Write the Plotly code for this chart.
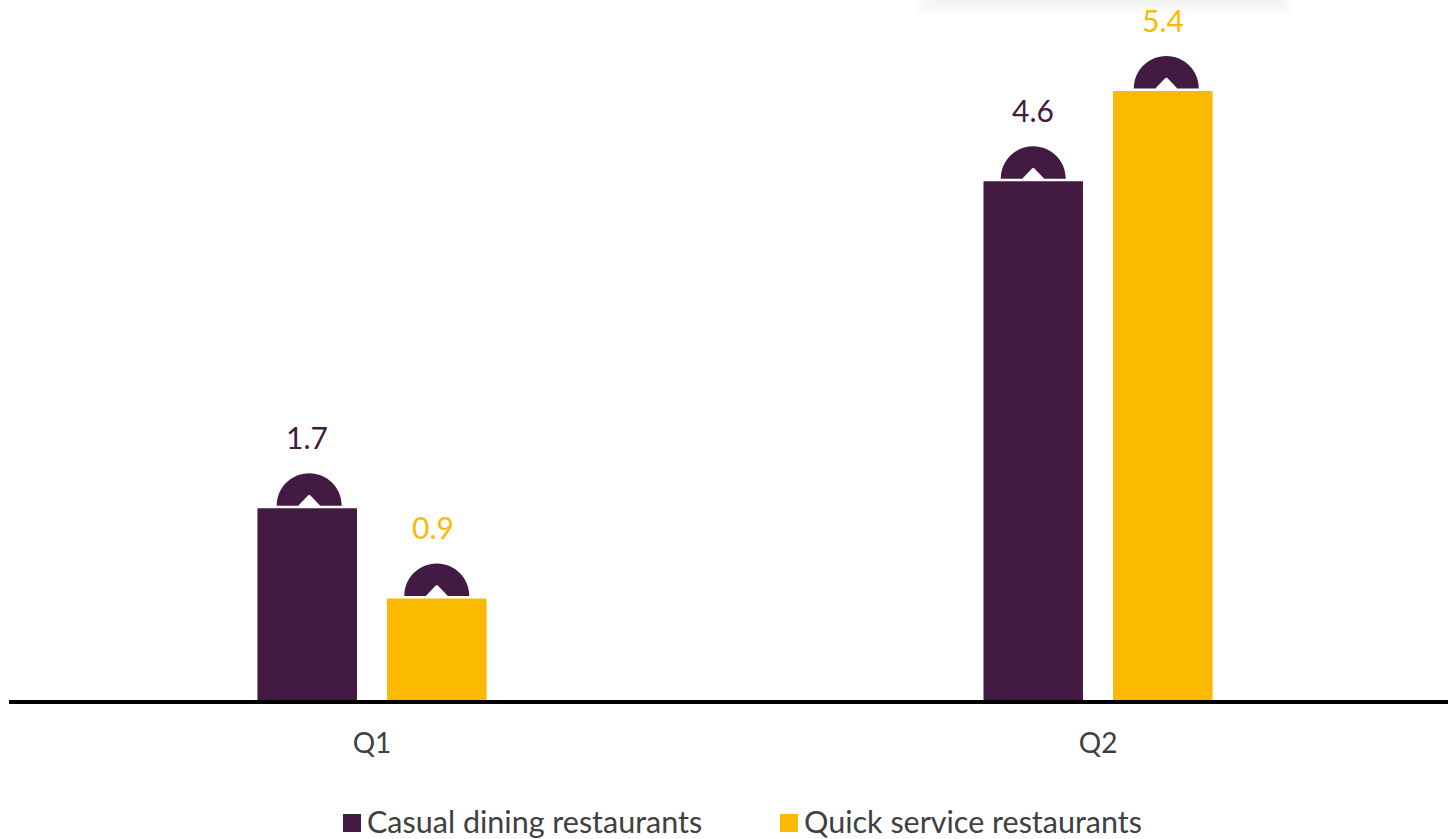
import plotly.graph_objects as go

# Chart data
quarters = ["Q1", "Q2"]
casual_dining = [1.7, 4.6]
quick_service = [0.9, 5.4]
series_names = ["Casual dining restaurants", "Quick service restaurants"]

PURPLE = "#431A42"
AMBER = "#FBBA00"
TEXT_GREY = "#404040"
FONT = "Lato"

WIDTH, HEIGHT = 1448, 839
LEFT, BOTTOM = 9, 139
BAR_GAP = 0.643
GROUP_GAP = 0.232
X_RANGE = [-0.5, 1.482]
Y_RANGE = [0, 6.206]

tick_positions = list(range(len(quarters)))
slot = (1 - BAR_GAP) / 2

fig = go.Figure()
for name, values, color in [
    (series_names[0], casual_dining, PURPLE),
    (series_names[1], quick_service, AMBER),
]:
    fig.add_trace(go.Bar(x=tick_positions, y=values, name=name, marker_color=color,
                         marker_line_width=0, showlegend=False))


def up_badge(x, y, nudge):
    """Half-ring badge with a white chevron, anchored just above a bar top."""
    r, k, lift = 32.5, 18, 2.5
    n = nudge
    path = (
        f"M {-r+n} {lift} C {-r+n} {lift+k} {-k+n} {lift+r} {n} {lift+r} "
        f"C {k+n} {lift+r} {r+n} {lift+k} {r+n} {lift} "
        f"L {11+n} {lift} L {1.5+n} {lift+10} L {n} {lift+11} L {-1.5+n} {lift+10} L {-11+n} {lift} Z"
    )
    return dict(type="path", xsizemode="pixel", ysizemode="pixel", xanchor=x, yanchor=y,
                path=path, fillcolor=PURPLE, line_width=0, xref="x", yref="y", layer="above")


# Per-bar nudges in pixels for the badges and the value labels
badge_nudges = {(0, 0): 2, (0, 1): 0, (1, 0): 0, (1, 1): 3.5}
label_nudges = {(0, 0): 0, (0, 1): -3.5, (1, 0): 0, (1, 1): 0}

for s, (values, color) in enumerate([(casual_dining, PURPLE), (quick_service, AMBER)]):
    offset = (s - 0.5) * slot
    for i, v in enumerate(values):
        x = tick_positions[i] + offset
        fig.add_shape(**up_badge(x, v, badge_nudges[(i, s)]))
        fig.add_annotation(x=x, y=v, yanchor="middle", xanchor="center", yshift=71,
                           xshift=label_nudges[(i, s)],
                           text=f"{v:.1f}", showarrow=False,
                           font=dict(family=FONT, size=30, color=color))

plot_w = WIDTH - LEFT


def px_x(p):
    return (p - LEFT) / plot_w


def px_y(p):
    return (HEIGHT - BOTTOM - p) / (HEIGHT - BOTTOM)


# Legend keys and labels
for name, color, sw_left in [(series_names[0], PURPLE, 343), (series_names[1], AMBER, 780)]:
    fig.add_shape(type="rect", xref="paper", yref="paper",
                  x0=px_x(sw_left), x1=px_x(sw_left + 18), y0=px_y(832), y1=px_y(814),
                  fillcolor=color, line_width=0)
    fig.add_annotation(xref="paper", yref="paper", x=px_x(sw_left + 22), y=px_y(820.5),
                       xanchor="left", yanchor="middle", text=name, showarrow=False,
                       font=dict(family=FONT, size=30.5, color=TEXT_GREY))

# Soft shadow along the top edge
for i in range(14):
    fig.add_shape(type="rect", xref="paper", yref="paper", layer="below",
                  x0=px_x(940 - i * 2), x1=px_x(1278 + i * 1.2),
                  y0=px_y(i * 1.2 + 1), y1=px_y(-1),
                  fillcolor="#000000", opacity=0.0035, line_width=0)

fig.update_layout(
    width=WIDTH, height=HEIGHT,
    margin=dict(l=LEFT, r=0, t=0, b=BOTTOM, pad=0),
    paper_bgcolor="white", plot_bgcolor="white",
    barmode="group", bargap=BAR_GAP, bargroupgap=GROUP_GAP,
    showlegend=False,
    font=dict(family=FONT, color=TEXT_GREY),
    xaxis=dict(range=X_RANGE, tickvals=tick_positions, ticktext=quarters,
               showgrid=False, zeroline=False, showline=True, linecolor="#000000", linewidth=4,
               ticks="outside", ticklen=15, tickcolor="rgba(0,0,0,0)",
               tickfont=dict(family=FONT, size=28, color=TEXT_GREY)),
    yaxis=dict(range=Y_RANGE, visible=False, showgrid=False, zeroline=False),
)

fig.write_html("out.html")
